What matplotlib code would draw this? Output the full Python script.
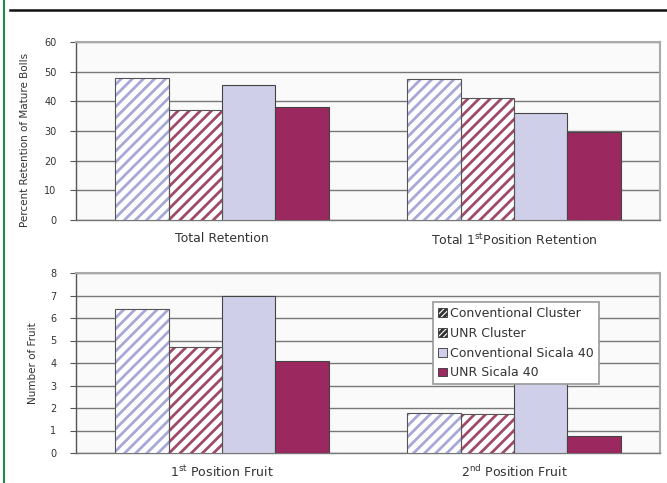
import matplotlib
matplotlib.use("Agg")
import matplotlib.pyplot as plt
import numpy as np
from matplotlib.patches import Patch

plt.rcParams['font.family'] = ['DejaVu Sans']
plt.rcParams['mathtext.fontset'] = 'dejavusans'
plt.rcParams['hatch.linewidth'] = 2.0

series = ["Conventional Cluster", "UNR Cluster", "Conventional Sicala 40", "UNR Sicala 40"]
top_categories = ["Total Retention", r"Total 1$^{\rm st}$Position Retention"]
top_values = {
    "Conventional Cluster": [48, 47.5],
    "UNR Cluster": [37, 41],
    "Conventional Sicala 40": [45.5, 36],
    "UNR Sicala 40": [38, 29.8],
}
bot_categories = [r"1$^{\rm st}$ Position Fruit", r"2$^{\rm nd}$ Position Fruit"]
bot_values = {
    "Conventional Cluster": [6.4, 1.8],
    "UNR Cluster": [4.7, 1.75],
    "Conventional Sicala 40": [7.0, 3.2],
    "UNR Sicala 40": [4.1, 0.75],
}
top_yticks = [0, 10, 20, 30, 40, 50, 60]
bot_yticks = [0, 1, 2, 3, 4, 5, 6, 7, 8]

styles = {
    "Conventional Cluster": dict(face="white", hatch="///", hcolor="#a8a8d8"),
    "UNR Cluster": dict(face="white", hatch="///", hcolor="#a04a68"),
    "Conventional Sicala 40": dict(face="#cfcfea", hatch=None, hcolor=None),
    "UNR Sicala 40": dict(face="#9c2860", hatch=None, hcolor=None),
}

W, H = 667, 483
fig = plt.figure(figsize=(W / 100, H / 100), dpi=100)
fig.patch.set_facecolor("white")

def px_axes(x0, y0, x1, y1):
    return fig.add_axes([x0 / W, 1 - y1 / H, (x1 - x0) / W, (y1 - y0) / H])

ax1 = px_axes(76, 42, 660, 220)
ax2 = px_axes(76, 273, 660, 453)

bw = 0.1825
offs = (np.arange(4) - 1.5) * bw

def draw(ax, cats, vals, ymax, yticks, ylabel, xpad, legend=False):
    ax.set_facecolor("#fafafa")
    x = np.arange(len(cats))
    for i, s in enumerate(series):
        st = styles[s]
        v = vals[s]
        if st["hatch"]:
            ax.bar(x + offs[i], v, bw, facecolor=st["face"], hatch=st["hatch"],
                   edgecolor=st["hcolor"], linewidth=0, zorder=3)
            ax.bar(x + offs[i], v, bw, facecolor="none", edgecolor="#555555",
                   linewidth=0.8, zorder=4)
        else:
            ax.bar(x + offs[i], v, bw, facecolor=st["face"], edgecolor="#444444",
                   linewidth=0.8, zorder=3)
    ax.set_xlim(-0.5, 1.5)
    ax.set_ylim(0, ymax)
    ax.set_yticks(yticks)
    ax.set_yticklabels([str(t) for t in yticks], fontsize=7, color="#333333")
    ax.set_xticks(x)
    ax.set_xticklabels(cats, fontsize=9, color="#333333")
    ax.tick_params(axis="x", length=0, pad=xpad)
    ax.tick_params(axis="y", length=4, width=0.8, color="#555555", pad=10)
    ax.yaxis.grid(True, color="#777777", linewidth=1.0, zorder=1)
    ax.set_axisbelow(True)
    for sp in ["top", "right"]:
        ax.spines[sp].set_color("#aaaaaa")
        ax.spines[sp].set_linewidth(1.5)
    ax.spines["left"].set_color("#555555")
    ax.spines["left"].set_linewidth(1.0)
    ax.spines["bottom"].set_color("#777777")
    ax.spines["bottom"].set_linewidth(1.0)
    ax.set_ylabel(ylabel, fontsize=7.5, color="#333333")
    if legend:
        hs = []
        for s in series:
            st = styles[s]
            if st["hatch"]:
                hs.append(Patch(facecolor="white", hatch="//////", edgecolor="#333333", linewidth=0.6))
            else:
                hs.append(Patch(facecolor=st["face"], edgecolor="#333333", linewidth=0.6))
        leg = ax.legend(hs, series, loc="upper left", bbox_to_anchor=(0.611, 0.84),
                        fontsize=9, frameon=True, fancybox=False, framealpha=1,
                        edgecolor="#999999", handlelength=0.7, handleheight=0.7,
                        handletextpad=0.3, labelspacing=0.55, borderpad=0.4,
                        borderaxespad=0)
        leg.set_zorder(10)
        leg.get_frame().set_linewidth(1.2)
        for t in leg.get_texts():
            t.set_color("#333333")

draw(ax1, top_categories, top_values, 60, top_yticks, "Percent Retention of Mature Bolls", 9)
draw(ax2, bot_categories, bot_values, 8, bot_yticks, "Number of Fruit", 8, legend=True)
ax1.yaxis.set_label_coords(-0.078, 0.45)
ax2.yaxis.set_label_coords(-0.065, 0.5)

# frame decorations
fig.add_artist(plt.Line2D([4 / W, 4 / W], [0, 1], color="#1f8a4c", linewidth=1.5))
fig.add_artist(plt.Line2D([10 / W, 1], [1 - 10 / H, 1 - 10 / H], color="#111111", linewidth=1.8))

fig.savefig("out.png", dpi=100)
